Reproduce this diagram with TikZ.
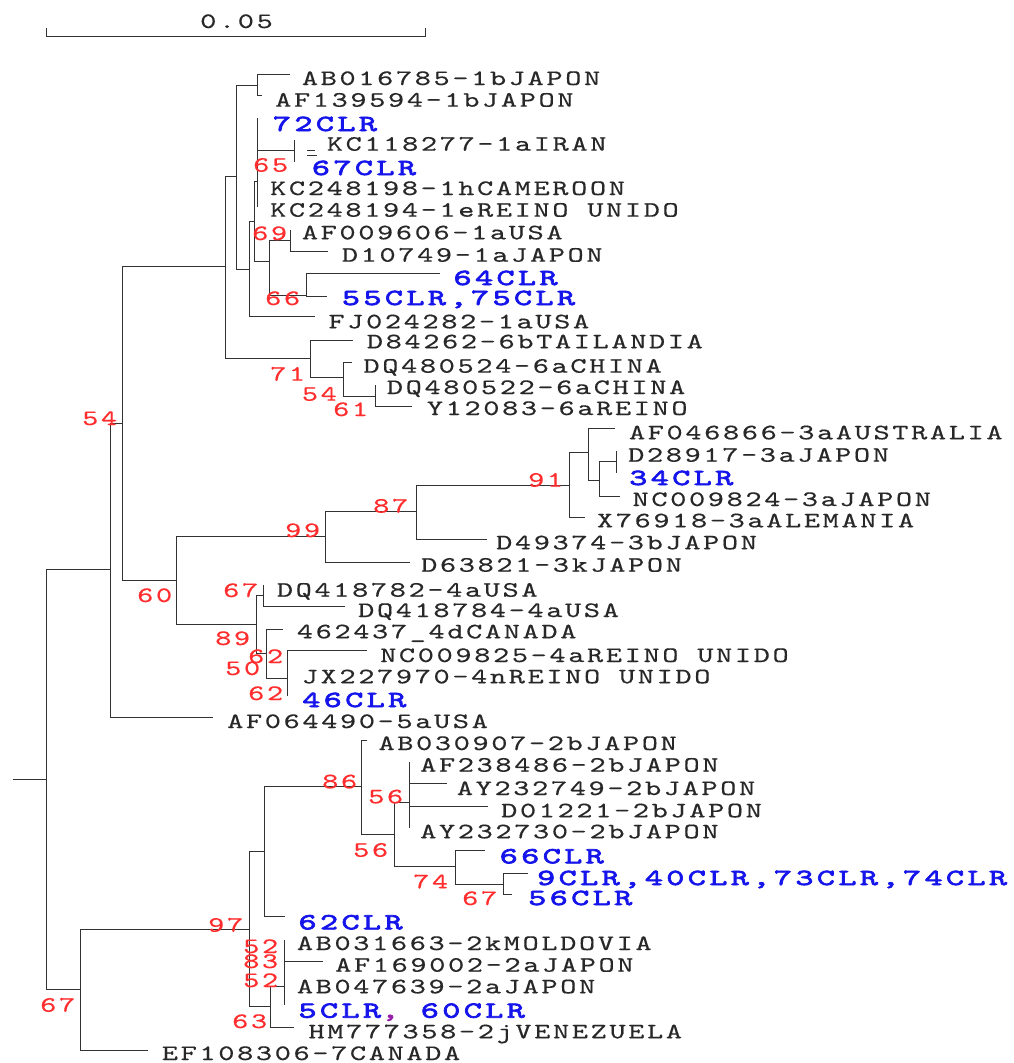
\documentclass[tikz,border=0pt]{standalone}
\usepackage{fontspec}
\newfontfamily\lmfam[FakeStretch=1.4,LetterSpace=12,FakeBold=0.4]{lmmono10-regular.otf}
\newfontfamily\lmbfam[FakeStretch=1.5,LetterSpace=14.8,FakeBold=3]{lmmono10-regular.otf}
\newcommand\lbf{\lmfam\fontsize{22}{22}\selectfont}
\newcommand\lbbf{\lmbfam\fontsize{23}{23}\selectfont}
\definecolor{linec}{RGB}{50,50,50}
\definecolor{txtc}{RGB}{40,40,40}
\definecolor{redc}{RGB}{255,45,45}
\definecolor{bluec}{RGB}{20,20,235}
\definecolor{magc}{RGB}{150,30,170}
\begin{document}
\begin{tikzpicture}[x=1pt,y=-1pt,
 br/.style={draw=linec,line width=1pt},
 lf/.style={anchor=base west,inner sep=0pt,text=txtc,font=\lbf},
 cl/.style={anchor=base west,inner sep=0pt,text=bluec,font=\lbbf},
 bs/.style={anchor=base west,inner sep=0pt,text=redc,font=\lbf}]
\fill[white] (0,0) rectangle (1013,1063);
\useasboundingbox (0,0) rectangle (1013,1063);
% scale bar
\coordinate (sb1) at (46.7,28); \coordinate (sb2) at (46.7,36);
\coordinate (sb3) at (425,36); \coordinate (sb4) at (425,28);
\draw[br] (sb1) -- (sb2) -- (sb3) -- (sb4);
\node[lf] (sbl) at (200,28) {0.05};
% coordinates
\coordinate (rs) at (12.7,779);
\coordinate (rt) at (46.7,779);
\coordinate (nA) at (110.7,569);
\coordinate (nB) at (122.3,423);
\coordinate (nC) at (225,266.7);
\coordinate (nD) at (236.7,176.7);
\coordinate (nAB) at (257.3,85);
\coordinate (lAB1) at (290,74);
\coordinate (lAB2) at (262,95);
\coordinate (nE) at (249.3,269.3);
\coordinate (lFJ) at (315,316.7);
\coordinate (nF) at (254.3,221.7);
\coordinate (nG) at (257.7,181.7);
\coordinate (t72) at (257.7,118.3);
\coordinate (nK) at (294,150.7);
\coordinate (tKC1) at (294,140);
\coordinate (t67) at (294,161.7);
\coordinate (aK1) at (307,150.7); \coordinate (aK2) at (315,150.7);
\coordinate (aK3) at (307,155.7); \coordinate (aK4) at (317,155.7);
\coordinate (tKC98) at (257.7,190);
\coordinate (tKC94) at (257.7,206.7);
\coordinate (nH) at (269.3,261);
\coordinate (nI) at (290,240);
\coordinate (tAF96) at (290,230);
\coordinate (lD10) at (328.3,251.7);
\coordinate (nJ) at (306.7,295);
\coordinate (l64) at (440,273.3);
\coordinate (l55) at (326.7,296);
\coordinate (nL) at (310.7,358.3);
\coordinate (lD84) at (353,340);
\coordinate (nM) at (343.3,377.3);
\coordinate (lDQ24) at (351.7,362.7);
\coordinate (nN) at (375,396);
\coordinate (tDQ22) at (375,385);
\coordinate (lY12) at (411.7,406);
\coordinate (nO) at (176,580);
\coordinate (nP) at (325,536);
\coordinate (lD63) at (409.6,562.7);
\coordinate (nR) at (416.4,511.7);
\coordinate (lD49) at (487,539.3);
\coordinate (nS) at (569.4,485);
\coordinate (lX76) at (585.4,517.3);
\coordinate (nT) at (588.6,452.7);
\coordinate (lAF66) at (615,428.3);
\coordinate (nU) at (599,480);
\coordinate (lNC24) at (619.6,496);
\coordinate (nV) at (616,461.7);
\coordinate (tD28) at (616,450.7);
\coordinate (t34) at (616,473.3);
\coordinate (nQ) at (256.7,624);
\coordinate (nQa) at (263.3,595);
\coordinate (tDQ82) at (263.3,585);
\coordinate (lDQ84) at (345,606.7);
\coordinate (nQb) at (266.7,653.3);
\coordinate (l462) at (283.3,629.3);
\coordinate (nQc) at (287.3,678.3);
\coordinate (lNC25) at (367,650.7);
\coordinate (t46) at (287.3,696);
\coordinate (lAF90) at (213,717);
\coordinate (nW1) at (80,989);
\coordinate (lEF) at (148.3,1050.7);
\coordinate (nW) at (249.3,929.3);
\coordinate (nX) at (264,851.7);
\coordinate (l62) at (285,916.7);
\coordinate (nZ) at (361.7,786.7);
\coordinate (lAB07) at (366.7,740);
\coordinate (nAA) at (394,834);
\coordinate (nBB) at (409.3,802.7);
\coordinate (tAF86) at (409.3,761.7);
\coordinate (lAY49) at (446.7,783.3);
\coordinate (lD01) at (488,806);
\coordinate (tAY30) at (409.3,828.3);
\coordinate (nCC) at (455,866.7);
\coordinate (l66) at (485,850.7);
\coordinate (nDD) at (503,884);
\coordinate (l9) at (528,873.3);
\coordinate (l56) at (512,894);
\coordinate (nY) at (270.7,1006.7);
\coordinate (nEE) at (284,986);
\coordinate (tAB63) at (284,940);
\coordinate (lAF02) at (323.3,961.7);
\coordinate (t5) at (284,1005);
\coordinate (lHM) at (294,1027.3);
% branches
\draw[br] (rs) -- (rt);
\draw[br] (rt) |- (nA) (rt) |- (nW1);
\draw[br] (nA) |- (nB) (nA) |- (lAF90);
\draw[br] (nB) |- (nC) (nB) |- (nO);
\draw[br] (nC) |- (nD) (nC) |- (nL);
\draw[br] (nD) |- (nAB) (nD) |- (nE);
\draw[br] (nAB) |- (lAB1) (nAB) |- (lAB2);
\draw[br] (nE) |- (nF) (nE) |- (lFJ);
\draw[br] (nF) |- (nG) (nF) |- (nH);
\draw[br] (nG) |- (t72) (nG) |- (nK) (nG) |- (tKC98) (nG) |- (tKC94);
\draw[br] (nK) |- (tKC1) (nK) |- (t67);
\draw[br] (aK1) -- (aK2) (aK3) -- (aK4);
\draw[br] (nH) |- (nI) (nH) |- (nJ);
\draw[br] (nI) |- (tAF96) (nI) |- (lD10);
\draw[br] (nJ) |- (l64) (nJ) |- (l55);
\draw[br] (nL) |- (lD84) (nL) |- (nM);
\draw[br] (nM) |- (lDQ24) (nM) |- (nN);
\draw[br] (nN) |- (tDQ22) (nN) |- (lY12);
\draw[br] (nO) |- (nP) (nO) |- (nQ);
\draw[br] (nP) |- (nR) (nP) |- (lD63);
\draw[br] (nR) |- (nS) (nR) |- (lD49);
\draw[br] (nS) |- (nT) (nS) |- (lX76);
\draw[br] (nT) |- (lAF66) (nT) |- (nU);
\draw[br] (nU) |- (nV) (nU) |- (lNC24);
\draw[br] (nV) |- (tD28) (nV) |- (t34);
\draw[br] (nQ) |- (nQa) (nQ) |- (nQb);
\draw[br] (nQa) |- (tDQ82) (nQa) |- (lDQ84);
\draw[br] (nQb) |- (l462) (nQb) |- (nQc);
\draw[br] (nQc) |- (lNC25) (nQc) |- (t46);
\draw[br] (nW1) |- (nW) (nW1) |- (lEF);
\draw[br] (nW) |- (nX) (nW) |- (nY);
\draw[br] (nX) |- (nZ) (nX) |- (l62);
\draw[br] (nZ) |- (lAB07) (nZ) |- (nAA);
\draw[br] (nAA) |- (nBB) (nAA) |- (nCC);
\draw[br] (nBB) |- (tAF86) (nBB) |- (lAY49) (nBB) |- (lD01) (nBB) |- (tAY30);
\draw[br] (nCC) |- (l66) (nCC) |- (nDD);
\draw[br] (nDD) |- (l9) (nDD) |- (l56);
\draw[br] (nY) |- (nEE) (nY) |- (lHM);
\draw[br] (nEE) |- (tAB63) (nEE) |- (lAF02) (nEE) |- (t5);
% leaf labels
\node[lf] (x1) at (301.7,85) {AB016785-1bJAPON};
\node[lf] (x2) at (275,106.7) {AF139594-1bJAPON};
\node[cl] (x3) at (272.7,131) {72CLR};
\node[lf] (x4) at (326.7,150.7) {KC118277-1aIRAN};
\node[cl] (x5) at (311.7,175) {67CLR};
\node[lf] (x6) at (270,195) {KC248198-1hCAMEROON};
\node[lf] (x7) at (270,216.7) {KC248194-1eREINO UNIDO};
\node[lf] (x8) at (301.7,239.3) {AF009606-1aUSA};
\node[lf] (x9) at (341.7,261.7) {D10749-1aJAPON};
\node[cl] (x10) at (453.3,285) {64CLR};
\node[cl] (x11) at (341.7,305) {55CLR,75CLR};
\node[lf] (x12) at (328.3,328.3) {FJ024282-1aUSA};
\node[lf] (x13) at (366.7,348.3) {D84262-6bTAILANDIA};
\node[lf] (x14) at (363.3,372.7) {DQ480524-6aCHINA};
\node[lf] (x15) at (386.7,394) {DQ480522-6aCHINA};
\node[lf] (x16) at (426.7,415) {Y12083-6aREINO};
\node[lf] (x17) at (628.8,439.3) {AF046866-3aAUSTRALIA};
\node[lf] (x18) at (628,461.7) {D28917-3aJAPON};
\node[cl] (x19) at (629,485) {34CLR};
\node[lf] (x20) at (632.4,506) {NC009824-3aJAPON};
\node[lf] (x21) at (596.8,527.3) {X76918-3aALEMANIA};
\node[lf] (x22) at (496,549.3) {D49374-3bJAPON};
\node[lf] (x23) at (421,571.7) {D63821-3kJAPON};
\node[lf] (x24) at (276.7,596.7) {DQ418782-4aUSA};
\node[lf] (x25) at (358,617) {DQ418784-4aUSA};
\node[lf] (x26) at (296.7,638.3) {462437\_4dCANADA};
\node[lf] (x27) at (380,662) {NC009825-4aREINO UNIDO};
\node[lf] (x28) at (301.7,683.3) {JX227970-4nREINO UNIDO};
\node[cl] (x29) at (302,707) {46CLR};
\node[lf] (x30) at (227,728) {AF064490-5aUSA};
\node[lf] (x31) at (378.3,750) {AB030907-2bJAPON};
\node[lf] (x32) at (420,771.7) {AF238486-2bJAPON};
\node[lf] (x33) at (456.7,795) {AY232749-2bJAPON};
\node[lf] (x34) at (501,817.3) {D01221-2bJAPON};
\node[lf] (x35) at (420,838.3) {AY232730-2bJAPON};
\node[cl] (x36) at (499.5,863.3) {66CLR};
\node[cl] (x37) at (537,885) {9CLR,40CLR,73CLR,74CLR};
\node[cl] (x38) at (528,905) {56CLR};
\node[cl] (x39) at (298.3,929.3) {62CLR};
\node[lf] (x40) at (296.7,950) {AB031663-2kMOLDOVIA};
\node[lf] (x41) at (335,971.7) {AF169002-2aJAPON};
\node[lf] (x42) at (296.7,993.3) {AB047639-2aJAPON};
\node[cl] (x43) at (298.3,1017.7) {5CLR\textcolor{magc}{,} 60CLR};
\node[lf] (x44) at (308.3,1038.3) {HM777358-2jVENEZUELA};
\node[lf] (x45) at (161.7,1060) {EF108306-7CANADA};
% bootstrap values
\node[bs] (b1) at (253,171.7) {65};
\node[bs] (b2) at (252,240) {69};
\node[bs] (b3) at (265,305) {66};
\node[bs] (b4) at (270,380.7) {71};
\node[bs] (b5) at (301.7,400.7) {54};
\node[bs] (b6) at (333,416) {61};
\node[bs] (b7) at (82,425) {54};
\node[bs] (b8) at (528,486.7) {91};
\node[bs] (b9) at (373,512.7) {87};
\node[bs] (b10) at (285,537) {99};
\node[bs] (b11) at (137,602) {60};
\node[bs] (b12) at (223,597) {67};
\node[bs] (b13) at (215,645) {89};
\node[bs] (b14) at (248,663) {62};
\node[bs] (b15) at (225,675) {50};
\node[bs] (b16) at (248,700) {62};
\node[bs] (b17) at (322,788.3) {86};
\node[bs] (b18) at (368,803.3) {56};
\node[bs] (b19) at (353,856.7) {56};
\node[bs] (b20) at (413,888.3) {74};
\node[bs] (b21) at (462,905) {67};
\node[bs] (b22) at (208,931.7) {97};
\node[bs] (b23) at (243,953) {52};
\node[bs] (b24) at (243,968) {83};
\node[bs] (b25) at (243,987) {52};
\node[bs] (b26) at (232,1028) {63};
\node[bs] (b27) at (40,1011.7) {67};
\end{tikzpicture}
\end{document}
